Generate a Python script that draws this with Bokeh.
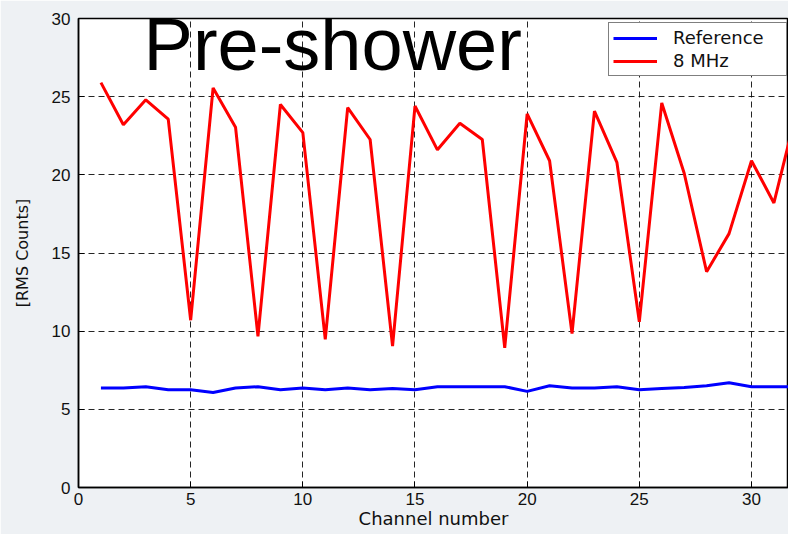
from bokeh.plotting import figure
from bokeh.models import Range1d, Label, Legend, LegendItem, FixedTicker
from bokeh.embed import file_html
from bokeh.resources import INLINE

channels = list(range(1, 33))
reference = [6.36, 6.36, 6.45, 6.25, 6.25, 6.08, 6.36, 6.45, 6.25, 6.36,
             6.25, 6.36, 6.25, 6.34, 6.25, 6.45, 6.45, 6.45, 6.45, 6.15,
             6.51, 6.36, 6.36, 6.45, 6.25, 6.34, 6.40, 6.51, 6.70, 6.45,
             6.45, 6.45]
mhz8 = [25.9, 23.2, 24.8, 23.56, 10.7, 25.56, 23.05, 9.67, 24.5, 22.7,
        9.47, 24.3, 22.26, 9.05, 24.4, 21.6, 23.3, 22.26, 8.94, 23.9,
        20.9, 9.84, 24.07, 20.8, 10.6, 24.6, 20.1, 13.8, 16.24, 20.9,
        18.2, 24.0]
x_ticks = [0, 5, 10, 15, 20, 25, 30]
y_ticks = [0, 5, 10, 15, 20, 25, 30]

p = figure(width=788, height=534, output_backend="svg", toolbar_location=None,
           x_range=Range1d(0, 31.65), y_range=Range1d(0, 30),
           min_border_left=78, min_border_right=0, min_border_top=18,
           min_border_bottom=47)
p.border_fill_color = "#eef1f4"
p.background_fill_color = "white"
p.outline_line_color = "black"
p.outline_line_width = 1.5

tick_font = "Liberation Sans"
for ax in (p.xaxis[0], p.yaxis[0]):
    ax.major_tick_in = 6
    ax.major_tick_out = 0
    ax.minor_tick_line_color = None
    ax.axis_line_color = "black"
    ax.axis_line_width = 1.5
    ax.major_tick_line_color = "black"
    ax.major_label_text_font = tick_font
    ax.major_label_text_font_size = "17px"
    ax.major_label_text_color = "#111111"
    ax.axis_label_text_font_style = "normal"
    ax.axis_label_text_color = "#111111"

p.xaxis[0].ticker = FixedTicker(ticks=x_ticks)
p.yaxis[0].ticker = FixedTicker(ticks=y_ticks)
p.xaxis[0].major_label_standoff = 5
p.yaxis[0].major_label_standoff = 8
p.xaxis[0].axis_label = "Channel number"
p.xaxis[0].axis_label_text_font = "DejaVu Sans"
p.xaxis[0].axis_label_text_font_size = "18px"
p.xaxis[0].axis_label_standoff = 0
p.yaxis[0].axis_label = "[RMS Counts]"
p.yaxis[0].axis_label_text_font = "DejaVu Sans"
p.yaxis[0].axis_label_text_font_size = "16px"
p.yaxis[0].axis_label_standoff = 17

for g in (p.xgrid[0], p.ygrid[0]):
    g.grid_line_color = "black"
    g.grid_line_alpha = 0.85
    g.grid_line_dash = "6 4"
    g.grid_line_width = 1
p.xgrid[0].ticker = FixedTicker(ticks=x_ticks)
p.ygrid[0].ticker = FixedTicker(ticks=y_ticks)

r_ref = p.line(channels, reference, line_color="#0000ff", line_width=3)
r_8 = p.line(channels, mhz8, line_color="#ff0000", line_width=3)

title = Label(x=2.9, y=28.35, text="Pre-shower", text_font="Liberation Sans",
              text_font_size="74px", text_color="black", text_baseline="alphabetic")
p.add_layout(title)

legend = Legend(items=[LegendItem(label="Reference", renderers=[r_ref]),
                       LegendItem(label="8 MHz", renderers=[r_8])],
                location=(530, 411), glyph_width=44, glyph_height=20,
                label_height=20, label_width=109, label_standoff=16,
                spacing=2, padding=4,
                label_text_font="DejaVu Sans", label_text_font_size="18px",
                label_text_color="#111111",
                border_line_color="black", border_line_width=1,
                background_fill_color="white", background_fill_alpha=1.0)
p.add_layout(legend)

open("out.html", "w").write(file_html(p, INLINE))
